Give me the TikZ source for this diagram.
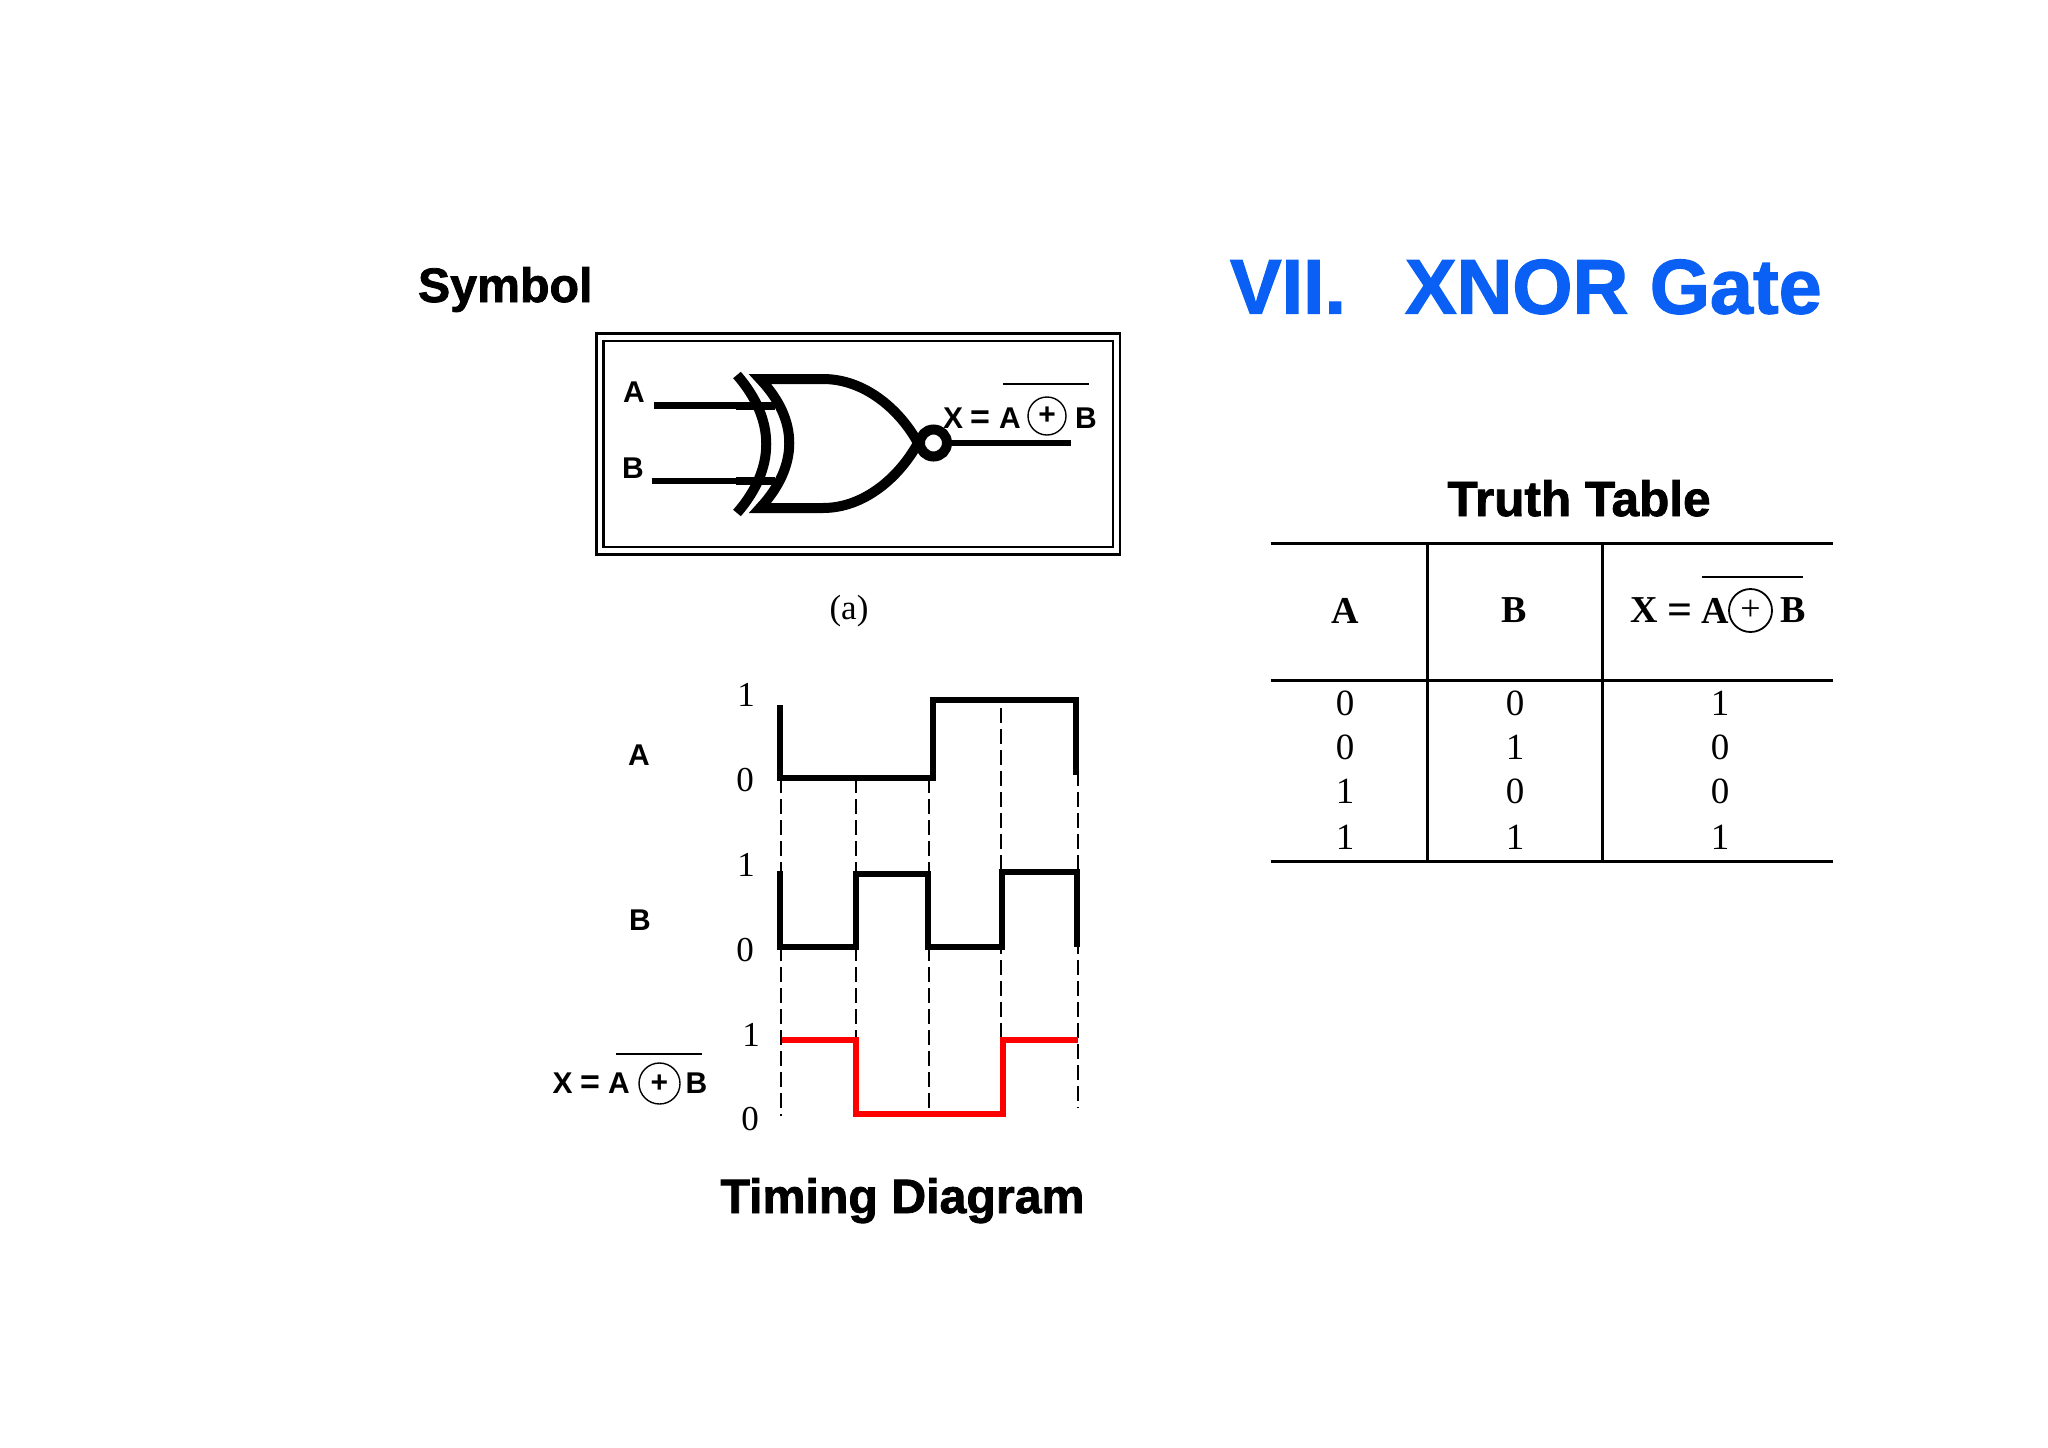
\documentclass[tikz,border=0pt]{standalone}
\usepackage{fontspec}
\setmainfont{Liberation Sans}
\newfontfamily\serfont{Liberation Serif}
\newfontfamily\ttlfont[BoldFeatures={FakeBold=1.6}]{Liberation Sans}
\definecolor{titleblue}{HTML}{0A60F5}
\tikzset{
  x=1pt,y=-1pt,
  every node/.style={inner sep=0pt,outer sep=0pt},
  ttl/.style={font=\ttlfont\bfseries\fontsize{#1}{#1}\selectfont,anchor=base},
  sanslab/.style={font=\bfseries\fontsize{30}{30}\selectfont},
  digit/.style={font=\serfont\fontsize{35}{35}\selectfont},
  tdigit/.style={font=\serfont\fontsize{37}{37}\selectfont},
  serbold/.style={font=\serfont\bfseries\fontsize{38}{38}\selectfont},
  xorsans/.style={circle,draw,line width=1.4pt,minimum size=#1,font=\bfseries\fontsize{30}{30}\selectfont},
  xorser/.style={circle,draw,line width=1.8pt,minimum size=#1,font=\serfont\fontsize{36}{36}\selectfont},
  wave/.style={line width=6pt,line cap=butt,line join=miter},
  dashline/.style={line width=2pt,dash pattern=on 15pt off 6pt},
  gateline/.style={line width=10pt,line join=miter},
  wire/.style={line width=6.5pt},
  rule/.style={line width=2.6pt},
  obar/.style={line width=2pt},
}
\begin{document}
\begin{tikzpicture}
\useasboundingbox (0,0) rectangle (2048,1448);
% titles
\node[ttl=48.3,anchor=base west] (symbol) at (418,302) {Symbol};
\node[ttl=77.3,anchor=base west,text=titleblue] (gatetitle) at (1230,313.5) {VII.\hspace{59pt}XNOR Gate};
\node[ttl=49.5] (tttitle) at (1579,516) {Truth Table};
\node[ttl=48.3] (tdtitle) at (902.5,1213) {Timing Diagram};
% symbol box
\draw[line width=2.8pt] (596.5,333.5) rectangle (1120,554.5);
\draw[line width=2.8pt] (603.5,341) rectangle (1113,547);
\draw[wire] (654,405.5) -- (775,405.5);
\draw[wire] (651.5,481) -- (775,481);
\draw[line width=8pt] (736,405.5) -- (775,405.5);
\draw[line width=8pt] (736,481) -- (775,481);
\draw[gateline] (737,375) .. controls (776,420) and (776,468) .. (737,513);
\draw[gateline] (760,379) .. controls (799,420) and (799,466) .. (760,508)
  -- (823,508) .. controls (865,508) and (900,476) .. (918,443)
  .. controls (900,410) and (865,379) .. (823,379) -- cycle;
\draw[line width=10pt] (933.5,443) circle [radius=13.5pt];
\draw[wire] (951,443) -- (1071,443);
\node[sanslab] (sa) at (634,392) {A};
\node[sanslab] (sb) at (633,468) {B};
\node[sanslab] (sx) at (953,418) {X};
\node[sanslab,font=\bfseries\fontsize{34}{34}\selectfont] (se) at (980,420) {=};
\node[sanslab] (sa2) at (1010,418) {A};
\node[xorsans=38pt] (sc) at (1047,416) {+};
\node[sanslab] (sb2) at (1086,418) {B};
\draw[obar] (1003,384) -- (1089,384);
\node[font=\serfont\fontsize{35}{35}\selectfont] (cap) at (849,611) {(a)};
% timing labels
\node[sanslab] (ta) at (639,755) {A};
\node[sanslab] (tb) at (640,920) {B};
\node[sanslab] (tx) at (562.5,1083) {X};
\node[sanslab,font=\bfseries\fontsize{34}{34}\selectfont] (te) at (590,1085) {=};
\node[sanslab] (ta2) at (619,1083) {A};
\node[xorsans=41pt] (tc) at (659.5,1083.5) {+};
\node[sanslab] (tb2) at (696.5,1083) {B};
\draw[obar] (616,1054) -- (702,1054);
\node[digit] (d1) at (746,695) {1};
\node[digit] (d2) at (745,780) {0};
\node[digit] (d3) at (746,864.5) {1};
\node[digit] (d4) at (745,950) {0};
\node[digit] (d5) at (751,1035) {1};
\node[digit] (d6) at (750,1119) {0};
% dashes
\draw[dashline] (780.5,778) -- (780.5,1116);
\draw[dashline] (856,778) -- (856,1037);
\draw[dashline] (928.5,778) -- (928.5,1113);
\draw[dashline] (1001,708) -- (1001,1039);
\draw[dashline] (1078,771) -- (1078,1108);
% waves
\draw[wave] (780,705) -- (780,777.5) -- (932.5,777.5) -- (932.5,700) -- (1076,700) -- (1076,775);
\draw[wave] (780,871) -- (780,947) -- (855.5,947) -- (855.5,874) -- (928,874) -- (928,947) -- (1002,947) -- (1002,872) -- (1077,872) -- (1077,947);
\draw[wave,red] (782,1039.5) -- (855.5,1039.5) -- (855.5,1113.5) -- (1002.5,1113.5) -- (1002.5,1039.5) -- (1077.5,1039.5);
% table
\draw[rule] (1270.5,543.5) -- (1832.5,543.5);
\draw[rule] (1270.5,680.5) -- (1832.5,680.5);
\draw[rule] (1270.5,861.5) -- (1832.5,861.5);
\draw[rule] (1427.5,543.5) -- (1427.5,861.5);
\draw[rule] (1602.5,543.5) -- (1602.5,861.5);
\node[serbold] (ha) at (1345,610.5) {A};
\node[serbold] (hb) at (1514,610.5) {B};
\node[serbold] (hx) at (1644,610.5) {X};
\node[serbold,font=\serfont\bfseries\fontsize{44}{44}\selectfont] (he) at (1680,614) {=};
\node[serbold] (ha2) at (1715,610.5) {A};
\node[xorser=43pt] (hc) at (1750.5,610.5) {+};
\node[serbold] (hb2) at (1793,610.5) {B};
\draw[obar] (1701.5,577) -- (1803,577);
\node[tdigit] (r11) at (1345,703) {0};
\node[tdigit] (r12) at (1515,703) {0};
\node[tdigit] (r13) at (1720,703) {1};
\node[tdigit] (r21) at (1345,747) {0};
\node[tdigit] (r22) at (1515,747) {1};
\node[tdigit] (r23) at (1720,747) {0};
\node[tdigit] (r31) at (1345,791) {1};
\node[tdigit] (r32) at (1515,791) {0};
\node[tdigit] (r33) at (1720,791) {0};
\node[tdigit] (r41) at (1345,837) {1};
\node[tdigit] (r42) at (1515,837) {1};
\node[tdigit] (r43) at (1720,837) {1};
\end{tikzpicture}
\end{document}
